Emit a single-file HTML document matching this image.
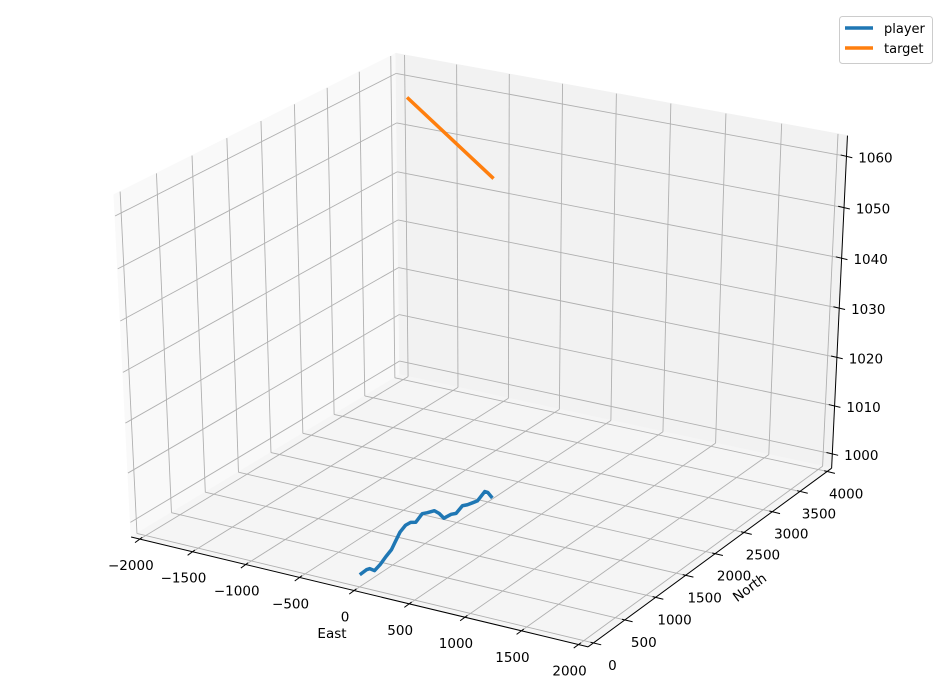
<!DOCTYPE html>
<html><head><meta charset="utf-8"><style>
html,body{margin:0;padding:0;background:#fff;}
svg{display:block;font-family:"DejaVu Sans","Liberation Sans",sans-serif;}
</style></head><body>
<svg id="chart" width="950" height="699" viewBox="0 0 950 699">
<g id="panes"></g>
<g id="grid"></g>
<g id="axes"></g>
<g id="series"></g>
<g>
<rect x="839.5" y="16.5" width="93" height="47" rx="3" fill="#fff" fill-opacity="0.8" stroke="#cccccc"/>
<line x1="845" y1="28" x2="873" y2="28" stroke="#1f77b4" stroke-width="3.5"/>
<text x="884" y="33" font-size="13" fill="#000">player</text>
<line x1="845" y1="48" x2="873" y2="48" stroke="#ff7f0e" stroke-width="3.5"/>
<text x="884" y="53" font-size="13" fill="#000">target</text>
</g>
</svg>
<script>
const eastTicks=[-2000,-1500,-1000,-500,0,500,1000,1500,2000];
const northTicks=[0,500,1000,1500,2000,2500,3000,3500,4000];
const altTicks=[1000,1010,1020,1030,1040,1050,1060];
const playerEast=[-71,-78,-67,-14,-38,-81,-115,-171,-240,-274,-269,-235,-281,-256,-228,-165,-83,-74,-50,-86,-62,-47,-33,-81,-51,40];
const playerNorth=[120,232,262,249,373,532,674,825,1014,1156,1228,1250,1430,1469,1533,1503,1438,1537,1575,1738,1777,1833,1888,2090,2086,2004];
const playerAlt=[998,998,998,998,998,998,998,998,998,998,998,998,998,998,998,998,998,998,998,998,998,998,998,998,998,998];
const targetEast=[-1930,-1100];
const targetNorth=[4000,4000];
const targetAlt=[1056.3,1043.2];
const xlim=[-2083.3,2083.3], ylim=[-83.3,4083.3], zlim=[997,1064];

const NS="http://www.w3.org/2000/svg";
function mk(parent,tag,attrs){const e=document.createElementNS(NS,tag);for(const k in attrs)e.setAttribute(k,attrs[k]);parent.appendChild(e);return e;}
const X0=xlim[0],X1=xlim[1],Y0=ylim[0],Y1=ylim[1],Z0=zlim[0],Z1=zlim[1];
function nrm(x,y,z){return [(x-X0)/(X1-X0),(y-Y0)/(Y1-Y0),(z-Z0)/(Z1-Z0)];}
const refs=[[X0,Y0,Z0,133,538],[X1,Y0,Z0,588,645],[X1,Y1,Z0,832,468],[X1,Y1,Z1,848,137],[X0,Y1,Z1,394,54],[X0,Y0,Z1,115,192],
[X1,Y1,1000,832,453],[X1,Y1,1060,847,157],[-2000,Y0,Z0,139,540],[2000,Y0,Z0,577,647],[X1,0,Z0,593,643],[X1,4000,Z0,828,470]];
function solveN(A,b){const n=b.length;const M=A.map((r,i)=>[...r,b[i]]);for(let i=0;i<n;i++){let p=i;for(let j=i+1;j<n;j++)if(Math.abs(M[j][i])>Math.abs(M[p][i]))p=j;[M[i],M[p]]=[M[p],M[i]];for(let j=0;j<n;j++)if(j!==i){const f=M[j][i]/M[i][i];for(let k=i;k<=n;k++)M[j][k]-=f*M[i][k];}}return M.map((r,i)=>r[n]/r[i]);}
const rows=[],rhs=[];
refs.forEach(r=>{const q=nrm(r[0],r[1],r[2]);const U=(r[3]-475)/500,V=(r[4]-350)/500;
rows.push([q[0],q[1],q[2],1,0,0,0,0,-U*q[0],-U*q[1],-U*q[2]]);rhs.push(U);
rows.push([0,0,0,0,q[0],q[1],q[2],1,-V*q[0],-V*q[1],-V*q[2]]);rhs.push(V);});
const AtA=[],Atb=[];for(let i=0;i<11;i++){AtA.push(new Array(11).fill(0));Atb.push(0);}
rows.forEach((r,k)=>{for(let i=0;i<11;i++){Atb[i]+=r[i]*rhs[k];for(let j=0;j<11;j++)AtA[i][j]+=r[i]*r[j];}});
const H=solveN(AtA,Atb);
function P(x,y,z){const q=nrm(x,y,z);const d=H[8]*q[0]+H[9]*q[1]+H[10]*q[2]+1;
return [475+500*(H[0]*q[0]+H[1]*q[1]+H[2]*q[2]+H[3])/d,350+500*(H[4]*q[0]+H[5]*q[1]+H[6]*q[2]+H[7])/d];}
function pts(list){return list.map(q=>{const p=P(q[0],q[1],q[2]);return p[0].toFixed(2)+","+p[1].toFixed(2);}).join(" ");}

const gP=document.getElementById('panes'),gG=document.getElementById('grid'),gA=document.getElementById('axes'),gS=document.getElementById('series');
let e;
e=mk(gP,'polygon',{points:pts([[X0,Y0,Z0],[X0,Y1,Z0],[X0,Y1,Z1],[X0,Y0,Z1]]),fill:'#f9f9f9',stroke:'#f9f9f9'});

e=mk(gP,'polygon',{points:pts([[X0,Y1,Z0],[X1,Y1,Z0],[X1,Y1,Z1],[X0,Y1,Z1]]),fill:'#f2f2f2',stroke:'#f2f2f2'});

e=mk(gP,'polygon',{points:pts([[X0,Y0,Z0],[X1,Y0,Z0],[X1,Y1,Z0],[X0,Y1,Z0]]),fill:'#f5f5f5',stroke:'#f5f5f5'});


function gl(a,b,name){const e=mk(gG,'polyline',{points:pts([a,b]),stroke:'#b0b0b0','stroke-width':0.9,fill:'none'});}
eastTicks.forEach(t=>{gl([t,Y0,Z0],[t,Y1,Z0],'east-grid-floor');gl([t,Y1,Z0],[t,Y1,Z1],'east-grid-back');});
northTicks.forEach(t=>{gl([X0,t,Z0],[X1,t,Z0],'north-grid-floor');gl([X0,t,Z0],[X0,t,Z1],'north-grid-side');});
altTicks.forEach(t=>{gl([X0,Y0,t],[X0,Y1,t],'alt-grid-side');gl([X0,Y1,t],[X1,Y1,t],'alt-grid-back');});

function axl(a,b,name){const e=mk(gA,'polyline',{points:pts([a,b]),stroke:'#000','stroke-width':1,fill:'none'});}
axl([X0,Y0,Z0],[X1,Y0,Z0],'east-axis-line');
axl([X1,Y0,Z0],[X1,Y1,Z0],'north-axis-line');
axl([X1,Y1,Z0],[X1,Y1,Z1],'alt-axis-line');
function unit(a,b){const d=[b[0]-a[0],b[1]-a[1]];const n=Math.hypot(d[0],d[1]);return [d[0]/n,d[1]/n];}
const dirN=unit(P(X1,Y0,Z0),P(X1,Y1,Z0)), dirE=unit(P(X0,Y0,Z0),P(X1,Y0,Z0));
function tick(p,d,inn,out,name){const e=mk(gA,'line',{x1:p[0]+d[0]*inn,y1:p[1]+d[1]*inn,x2:p[0]-d[0]*out,y2:p[1]-d[1]*out,stroke:'#000','stroke-width':1});}
function lab(x,y,txt,name,rot){const e=mk(gA,'text',{x:x,y:y,'font-size':13.5,'text-anchor':'middle','dominant-baseline':'central',fill:'#000'});if(rot)e.setAttribute('transform','rotate('+rot+' '+x+' '+y+')');e.textContent=txt;}
function fmt(t){return t<0?'\u2212'+(-t):String(t);}
eastTicks.forEach(t=>{const p=P(t,Y0,Z0);tick(p,dirN,3,6,'east-tick');lab(p[0]-9,p[1]+27,fmt(t),'east-tick-label');});
const dE2=[-dirE[0],-dirE[1]];
northTicks.forEach(t=>{const p=P(X1,t,Z0);tick(p,dE2,3,8,'north-tick');lab(p[0]+19,p[1]+23,fmt(t),'north-tick-label');});
altTicks.forEach(t=>{const p=P(X1,Y1,t);tick(p,dE2,6,6,'alt-tick');lab(p[0]+29,p[1]+2,fmt(t),'alt-tick-label');});
lab(332,634,'East','east-axis-title');
const ang=Math.atan2(dirN[1],dirN[0])*180/Math.PI;
lab(750,588,'North','north-axis-title',ang);

function series(E,N,Z,color,name){const list=E.map((x,i)=>[x,N[i],Z[i]]);const e=mk(gS,'polyline',{points:pts(list),stroke:color,'stroke-width':3.5,fill:'none','stroke-linejoin':'round'});}
series(targetEast,targetNorth,targetAlt,'#ff7f0e','target-line');
series(playerEast,playerNorth,playerAlt,'#1f77b4','player-line');
</script>
</body></html>
